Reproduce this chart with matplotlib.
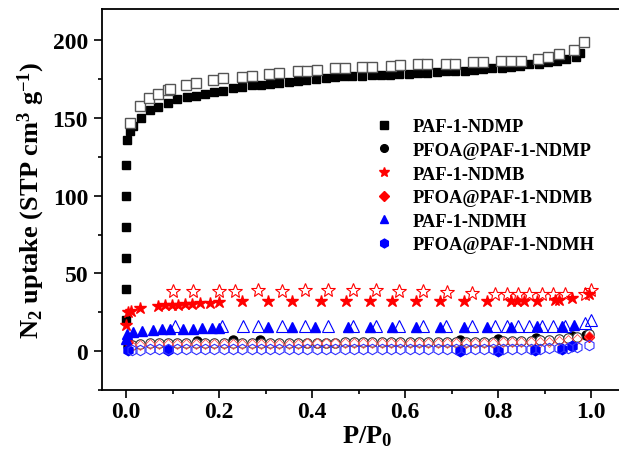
import matplotlib
matplotlib.use("Agg")
import matplotlib.pyplot as plt
from matplotlib.ticker import MultipleLocator

plt.rcParams['font.family'] = ['Liberation Serif', 'DejaVu Serif']
plt.rcParams['font.weight'] = 'bold'
plt.rcParams['mathtext.fontset'] = 'custom'
plt.rcParams['mathtext.rm'] = 'Liberation Serif:bold'
plt.rcParams['mathtext.it'] = 'Liberation Serif:bold'
plt.rcParams['mathtext.bf'] = 'Liberation Serif:bold'
plt.rcParams['mathtext.default'] = 'rm'

# ---- PAF-1-NDMP (squares) ----
ndmp_ads_x = [0.0, 0.0, 0.0, 0.0, 0.0, 0.0, 0.002, 0.008, 0.015, 0.032, 0.051, 0.069, 0.09,
              0.11, 0.131, 0.15, 0.17, 0.189, 0.208, 0.23, 0.25, 0.27, 0.29, 0.309, 0.328,
              0.35, 0.369, 0.388, 0.408, 0.429, 0.449, 0.468, 0.487, 0.508, 0.528, 0.548,
              0.568, 0.588, 0.608, 0.628, 0.648, 0.668, 0.688, 0.708, 0.728, 0.748, 0.768,
              0.788, 0.808, 0.828, 0.848, 0.867, 0.888, 0.907, 0.927, 0.946, 0.968, 0.976]
ndmp_ads_y = [20, 40, 60, 80, 100, 120, 136, 142, 145, 150, 155, 157, 160,
              162, 163.7, 164.4, 165.7, 167, 167.6, 169.6, 170, 171, 171.5, 172, 172.8,
              173.5, 174, 174.8, 175.4, 176, 176.7, 177, 177, 177.3, 177.6, 178,
              178, 178.3, 178.6, 179, 179.2, 179.5, 180, 180.2, 180.6, 181, 181.5,
              182, 182.5, 183, 183.5, 184.5, 185, 186, 187, 188, 189.6, 192]
ndmp_des_x = [0.009, 0.03, 0.049, 0.069, 0.09, 0.094, 0.129, 0.15, 0.187, 0.208, 0.249, 0.27,
              0.307, 0.328, 0.369, 0.39, 0.41, 0.449, 0.47, 0.508, 0.53, 0.569, 0.59, 0.627,
              0.648, 0.687, 0.708, 0.747, 0.768, 0.807, 0.828, 0.85, 0.886, 0.907, 0.93,
              0.963, 0.985]
ndmp_des_y = [147, 158, 163, 165.7, 168, 169, 171.5, 172.8, 174.8, 175.5, 176.7, 177.3,
              178.6, 179.3, 180, 180.6, 181, 182, 182, 183, 183, 183.8, 184, 184.5,
              184.5, 185, 185, 186, 186, 186.6, 187, 187, 188, 189, 191,
              193.7, 198.7]

# ---- dense desorption grid for the low-uptake samples ----
low_des_x = [0.012, 0.03, 0.052, 0.072, 0.091, 0.11, 0.13, 0.15, 0.17, 0.19, 0.21, 0.23,
             0.25, 0.27, 0.29, 0.31, 0.33, 0.35, 0.37, 0.39, 0.41, 0.43, 0.45, 0.47, 0.49,
             0.51, 0.53, 0.55, 0.57, 0.59, 0.61, 0.63, 0.65, 0.67, 0.69, 0.71, 0.73, 0.75,
             0.77, 0.79, 0.81, 0.83, 0.85, 0.87, 0.89, 0.91, 0.93, 0.95, 0.97, 0.995]

# ---- PFOA@PAF-1-NDMP (circles) ----
pfoa_ndmp_ads_x = [0.005, 0.152, 0.23, 0.288, 0.718, 0.8, 0.882, 0.96, 0.99]
pfoa_ndmp_ads_y = [3, 6.5, 7, 7, 7.5, 8, 8.5, 9.5, 10.5]
pfoa_ndmp_des_y = [4, 4.5, 5, 5, 5, 5, 5, 5, 5, 5.2, 5.2, 5.2,
                   5.2, 5.3, 5.3, 5.3, 5.4, 5.4, 5.4, 5.5, 5.5, 5.5, 5.5, 5.6, 5.6,
                   5.6, 5.6, 5.7, 5.7, 5.7, 5.8, 5.8, 5.8, 5.9, 5.9, 6, 6, 6,
                   6.1, 6.2, 6.3, 6.4, 6.5, 6.7, 7, 7.3, 7.8, 8.3, 9, 11]

# ---- PAF-1-NDMB (stars) ----
ndmb_ads_x = [0.0, 0.004, 0.01, 0.03, 0.069, 0.084, 0.099, 0.112, 0.127, 0.142, 0.159, 0.18,
              0.2, 0.25, 0.305, 0.356, 0.42, 0.474, 0.524, 0.573, 0.624, 0.676, 0.727, 0.777,
              0.827, 0.84, 0.856, 0.884, 0.922, 0.932, 0.96, 0.995]
ndmb_ads_y = [17, 25, 26, 28, 29, 29.5, 30, 30, 30.5, 30.5, 31, 31,
              31.5, 32, 32, 32, 32, 32, 32, 32, 32, 32, 32, 32,
              32, 32, 32, 32.5, 33, 33, 34, 37]
ndmb_des_x = [0.101, 0.144, 0.2, 0.234, 0.284, 0.335, 0.385, 0.434, 0.488, 0.538, 0.587,
              0.639, 0.69, 0.744, 0.793, 0.819, 0.843, 0.867, 0.895, 0.918, 0.944, 0.987,
              1.0]
ndmb_des_y = [38.5, 39, 39, 39, 39.5, 39, 39.5, 39.5, 39.5, 39.5, 39,
              38.5, 38, 37.5, 37, 37, 37, 37, 37, 36.5, 36.5, 37,
              39.5]

# ---- PFOA@PAF-1-NDMB (diamonds) ----
pfoa_ndmb_ads_x = [0.004, 0.995]
pfoa_ndmb_ads_y = [6, 9]
pfoa_ndmb_des_y = [3.5, 4, 4.5, 4.5, 4.5, 4.5, 4.6, 4.6, 4.6, 4.7, 4.7, 4.7,
                   4.8, 4.8, 4.8, 4.8, 4.9, 4.9, 4.9, 5, 5, 5, 5, 5, 5,
                   5.1, 5.1, 5.1, 5.1, 5.2, 5.2, 5.2, 5.2, 5.3, 5.3, 5.3, 5.4, 5.4,
                   5.5, 5.5, 5.6, 5.6, 5.7, 5.8, 6, 6.2, 6.5, 7, 7.8, 9.5]

# ---- PAF-1-NDMH (triangles) ----
ndmh_ads_x = [0.0, 0.002, 0.015, 0.034, 0.058, 0.077, 0.094, 0.122, 0.144, 0.163, 0.185,
              0.2, 0.305, 0.356, 0.406, 0.477, 0.525, 0.573, 0.624, 0.675, 0.727, 0.777,
              0.827, 0.884, 0.937, 0.964]
ndmh_ads_y = [8, 11, 12.5, 13, 13.5, 14, 14, 14.5, 14.5, 15, 15,
              15, 15.5, 15.5, 15.5, 15.5, 15.5, 15.5, 15.5, 15.5, 15.5, 15.5,
              15.5, 16, 16.5, 17]
ndmh_des_x = [0.105, 0.206, 0.252, 0.284, 0.335, 0.385, 0.434, 0.488, 0.538, 0.587, 0.638,
              0.688, 0.744, 0.793, 0.819, 0.843, 0.867, 0.895, 0.918, 0.944, 0.987, 1.0]
ndmh_des_y = [16, 16, 16.5, 16.5, 16.5, 16.5, 16.5, 16.5, 16.5, 16.5, 16.5,
              16.5, 16.5, 16.5, 16.5, 16.5, 16.5, 16.5, 16.5, 16.5, 18, 20]

# ---- PFOA@PAF-1-NDMH (hexagons) ----
pfoa_ndmh_ads_x = [0.005, 0.09, 0.718, 0.8, 0.88, 0.937, 0.96]
pfoa_ndmh_ads_y = [0.5, 1, 0, 0, 0.5, 1.5, 3]
pfoa_ndmh_des_y = [1, 1, 1.2, 1.2, 1.3, 1.3, 1.3, 1.4, 1.4, 1.4, 1.5, 1.5,
                   1.5, 1.5, 1.5, 1.5, 1.5, 1.5, 1.5, 1.5, 1.5, 1.5, 1.5, 1.5, 1.5,
                   1.5, 1.5, 1.5, 1.5, 1.5, 1.5, 1.5, 1.5, 1.5, 1.5, 1.5, 1.5, 1.5,
                   1.5, 1.5, 1.5, 1.5, 1.5, 1.6, 1.7, 1.8, 2, 2.3, 2.8, 4]

labels = ['PAF-1-NDMP', 'PFOA@PAF-1-NDMP', 'PAF-1-NDMB',
          'PFOA@PAF-1-NDMB', 'PAF-1-NDMH', 'PFOA@PAF-1-NDMH']

fig = plt.figure(figsize=(6.19, 4.64), dpi=100)
ax = fig.add_axes([102/619, 1 - 391/464, 530/619, 381/464])

ew = 0.8
# filled = adsorption, open = desorption
ax.plot(ndmp_ads_x, ndmp_ads_y, 's', color='black', ms=6, mec='black', label=labels[0], zorder=3)
ax.plot(ndmp_des_x, ndmp_des_y, 's', mfc='white', mec='#555555', mew=1.0, ms=6.5, zorder=3)

ax.plot(pfoa_ndmp_ads_x, pfoa_ndmp_ads_y, 'o', color='black', ms=6.5, label=labels[1], zorder=3)
ax.plot(low_des_x, pfoa_ndmp_des_y, 'o', mfc='white', mec='#333333', mew=ew, ms=6.8, zorder=3)

ax.plot(ndmb_ads_x, ndmb_ads_y, '*', color='red', ms=9, label=labels[2], zorder=3)
ax.plot(ndmb_des_x, ndmb_des_y, '*', mfc='none', mec='red', mew=ew, ms=10, zorder=3)

ax.plot(pfoa_ndmb_ads_x, pfoa_ndmb_ads_y, 'D', color='red', ms=5.5, label=labels[3], zorder=3)
ax.plot(low_des_x, pfoa_ndmb_des_y, 'D', mfc='none', mec='#ff5050', mew=0.6, ms=5, zorder=3)

ax.plot(ndmh_ads_x, ndmh_ads_y, '^', color='blue', ms=7.5, label=labels[4], zorder=3)
ax.plot(ndmh_des_x, ndmh_des_y, '^', mfc='none', mec='blue', mew=ew, ms=8, zorder=3)

ax.plot(pfoa_ndmh_ads_x, pfoa_ndmh_ads_y, 'h', color='blue', ms=7.5, label=labels[5], zorder=3)
ax.plot(low_des_x, pfoa_ndmh_des_y, 'h', mfc='none', mec='#3333ff', mew=ew, ms=7.5, zorder=3)

ax.set_xlim(-0.0516, 1.088)
ax.set_ylim(-25, 220.2)
ax.spines['right'].set_visible(False)

ax.xaxis.set_major_locator(MultipleLocator(0.2))
ax.xaxis.set_minor_locator(MultipleLocator(0.1))
ax.yaxis.set_major_locator(MultipleLocator(50))
ax.yaxis.set_minor_locator(MultipleLocator(25))
ax.xaxis.set_major_formatter(plt.FuncFormatter(lambda v, p: '%.1f' % v))
ax.tick_params(which='major', direction='out', length=6, width=1.2, labelsize=17)
ax.tick_params(axis='x', which='major', pad=2)
ax.tick_params(axis='y', which='major', pad=4)
ax.tick_params(which='minor', direction='out', length=3, width=1.2)
for lbl in ax.get_xticklabels() + ax.get_yticklabels():
    lbl.set_fontweight('bold')
for s in ax.spines.values():
    s.set_linewidth(1.3)

ax.set_xlabel(r'P/P$_0$', fontsize=19, fontweight='bold', labelpad=1)
ax.set_ylabel(r'N$_2$ uptake (STP cm$^3$ g$^{-1}$)', fontsize=19, fontweight='bold', labelpad=4)

leg = ax.legend(loc='upper left', bbox_to_anchor=(366/619, 1 - 110/464),
                bbox_transform=fig.transFigure, frameon=False,
                handlelength=1.0, handletextpad=1.05, labelspacing=0.36, borderpad=0,
                markerscale=0.85, prop={'weight': 'bold', 'size': 13.3})

fig.savefig('out.png', dpi=100)
